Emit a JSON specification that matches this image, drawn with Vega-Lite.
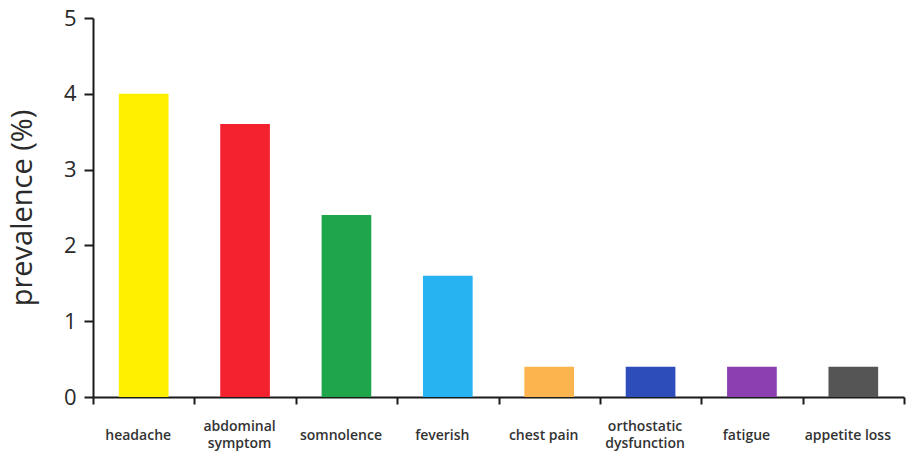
{
  "$schema": "https://vega.github.io/schema/vega-lite/v6.json",
  "autosize": {"type": "none"},
  "width": 811,
  "height": 379,
  "padding": {"left": 93, "top": 18, "right": 2, "bottom": 56},
  "background": "white",
  "data": {
    "values": [
      {"symptom": "headache", "prevalence": 4.0, "color": "#FFF000"},
      {"symptom": "abdominal symptom", "prevalence": 3.6, "color": "#F4222E"},
      {"symptom": "somnolence", "prevalence": 2.4, "color": "#1FA54A"},
      {"symptom": "feverish", "prevalence": 1.6, "color": "#27B3F2"},
      {"symptom": "chest pain", "prevalence": 0.4, "color": "#FBB44E"},
      {"symptom": "orthostatic dysfunction", "prevalence": 0.4, "color": "#2C4DBA"},
      {"symptom": "fatigue", "prevalence": 0.4, "color": "#8B3FB0"},
      {"symptom": "appetite loss", "prevalence": 0.4, "color": "#555555"}
    ]
  },
  "mark": {"type": "bar", "width": {"band": 0.49}},
  "encoding": {
    "x": {
      "field": "symptom",
      "type": "nominal",
      "sort": null,
      "scale": {"paddingInner": 0, "paddingOuter": 0},
      "axis": {
        "title": null,
        "labelAngle": 0,
        "tickBand": "extent",
        "domainColor": "#1a1a1a",
        "domainWidth": 2,
        "tickColor": "#1a1a1a",
        "tickWidth": 2,
        "tickSize": 7,
        "labelFont": "Open Sans",
        "labelFontSize": 14,
        "labelFontWeight": 600,
        "labelColor": "#333333",
        "labelBaseline": "middle",
        "labelOffset": -6,
        "labelPadding": {
          "condition": {"test": "indexof(['abdominal symptom', 'orthostatic dysfunction'], datum.value) >= 0", "value": 22},
          "value": 31
        },
        "labelLineHeight": 17,
        "labelExpr": "datum.value == 'abdominal symptom' ? ['abdominal', 'symptom'] : datum.value == 'orthostatic dysfunction' ? ['orthostatic', 'dysfunction'] : datum.value"
      }
    },
    "y": {
      "field": "prevalence",
      "type": "quantitative",
      "scale": {"domain": [0, 5]},
      "axis": {
        "title": "prevalence (%)",
        "values": [0, 1, 2, 3, 4, 5],
        "grid": false,
        "domainColor": "#1a1a1a",
        "domainWidth": 2,
        "tickColor": "#1a1a1a",
        "tickWidth": 2,
        "tickSize": 9,
        "labelFont": "Open Sans",
        "labelFontSize": 22,
        "labelColor": "#2a2a2a",
        "labelPadding": 8,
        "titleFont": "Open Sans",
        "titleFontSize": 29,
        "titleFontWeight": "normal",
        "titleColor": "#2a2a2a",
        "titlePadding": 26
      }
    },
    "color": {"field": "color", "type": "nominal", "scale": null, "legend": null}
  },
  "config": {"view": {"stroke": null}}
}
